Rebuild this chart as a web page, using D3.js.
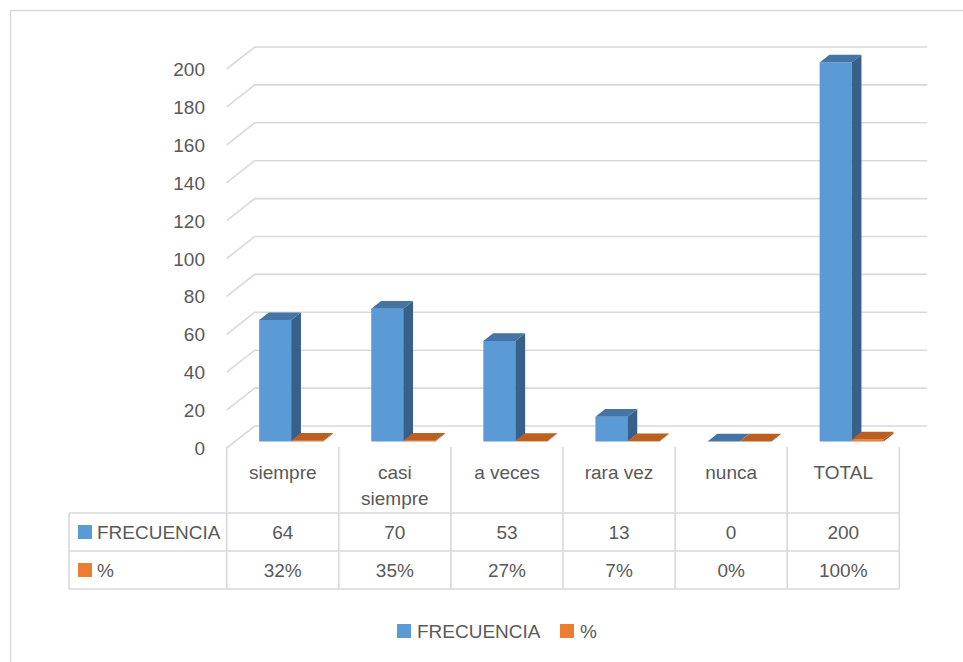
<!DOCTYPE html>
<html>
<head>
<meta charset="utf-8">
<script src="https://cdn.jsdelivr.net/npm/d3@7"></script>
<style>
  body { margin: 0; background: #fff; }
  svg text { font-family: "Liberation Sans", Arial, sans-serif; fill: #595959; }
</style>
</head>
<body>
<svg id="chart" width="963" height="662"></svg>
<script>
const categories = ['siempre', 'casi siempre', 'a veces', 'rara vez', 'nunca', 'TOTAL']
const frecuencia = [64, 70, 53, 13, 0, 200]
const porcentaje = [0.32, 0.35, 0.27, 0.07, 0, 1]
const seriesNames = ['FRECUENCIA', '%']
const yTicks = [0, 20, 40, 60, 80, 100, 120, 140, 160, 180, 200]

const width = 963, height = 662
const left = 226.7, right = 899.3
const depthX = 28, depthY = -22   // full floor depth shift
const d0 = 0.3, d1 = 0.65         // where the bars sit in depth
const fontSize = 19

const svg = d3.select('#chart')

// chart frame
svg.append('rect').attr('x', 10.5).attr('y', 10.5).attr('width', 1000).attr('height', 700)
  .attr('fill', 'none').attr('stroke', '#d9d9d9').attr('stroke-width', 1.5)

const xScale = d3.scaleBand().domain(categories).range([left, right])
const xSub = d3.scaleBand().domain(seriesNames).range([0, xScale.bandwidth()]).paddingOuter(0.75)
const yScale = d3.scaleLinear().domain([0, 200]).range([448, 69])

const proj = (x, v, d) => [x + depthX * d, yScale(v) + depthY * d]

// gridlines: side wall diagonal + back wall line
const grid = svg.append('g')
yTicks.forEach(t => {
  const pts = [proj(left, t, 0), proj(left, t, 1), proj(right, t, 1)]
  grid.append('polyline').attr('points', pts.map(p => p.join(',')).join(' '))
    .attr('fill', 'none').attr('stroke', '#d9d9d9').attr('stroke-width', 1.6)
})

// y labels
svg.append('g').selectAll('text').data(yTicks).enter().append('text')
  .attr('x', 205).attr('y', d => yScale(d) + 7)
  .attr('text-anchor', 'end').attr('font-size', fontSize).text(d => d)

// bars
const colors = {
  'FRECUENCIA': {front: '#5b9bd5', top: '#4475a6', side: '#386089'},
  '%': {front: '#ed7d31', top: '#bc5f22', side: '#a2521d'}
}
const barData = []
categories.forEach((c, i) => {
  barData.push({cat: c, s: 'FRECUENCIA', v: frecuencia[i]})
  barData.push({cat: c, s: '%', v: porcentaje[i]})
})
const bars = svg.append('g')
barData.forEach(b => {
  const x0 = xScale(b.cat) + xSub(b.s)
  const x1 = x0 + xSub.bandwidth()
  const col = colors[b.s]
  const poly = (pts, fill) => bars.append('polygon')
    .attr('points', pts.map(p => p.join(',')).join(' ')).attr('fill', fill)
  // front face
  poly([proj(x0, 0, d0), proj(x1, 0, d0), proj(x1, b.v, d0), proj(x0, b.v, d0)], col.front)
  // side face
  poly([proj(x1, 0, d0), proj(x1, 0, d1), proj(x1, b.v, d1), proj(x1, b.v, d0)], col.side)
  // top face
  poly([proj(x0, b.v, d0), proj(x1, b.v, d0), proj(x1, b.v, d1), proj(x0, b.v, d1)], col.top)
})

// data table
const tableLeft = 69, rowTop = 513, rowMid = 551, rowBottom = 589
const table = svg.append('g').attr('stroke', '#d9d9d9').attr('stroke-width', 1.6)
;[rowTop, rowMid, rowBottom].forEach(y => {
  table.append('line').attr('x1', tableLeft).attr('x2', right).attr('y1', y).attr('y2', y)
})
table.append('line').attr('x1', tableLeft).attr('x2', tableLeft).attr('y1', rowTop).attr('y2', rowBottom)
categories.forEach(c => {
  table.append('line').attr('x1', xScale(c)).attr('x2', xScale(c)).attr('y1', 447).attr('y2', rowBottom)
})
table.append('line').attr('x1', right).attr('x2', right).attr('y1', 447).attr('y2', rowBottom)

// category labels
const catText = svg.append('g').selectAll('text').data(categories).enter().append('text')
  .attr('text-anchor', 'middle').attr('font-size', fontSize)
  .attr('x', d => xScale(d) + xScale.bandwidth() / 2).attr('y', 479)
catText.each(function(d) {
  const words = d === 'casi siempre' ? ['casi', 'siempre'] : [d]
  words.forEach((w, i) => {
    d3.select(this).append('tspan').attr('x', xScale(d) + xScale.bandwidth() / 2)
      .attr('dy', i === 0 ? 0 : 26).text(w)
  })
})

// table values
const cells = svg.append('g')
categories.forEach((c, i) => {
  const cx = xScale(c) + xScale.bandwidth() / 2
  cells.append('text').attr('x', cx).attr('y', 539).attr('text-anchor', 'middle')
    .attr('font-size', fontSize).text(frecuencia[i])
  cells.append('text').attr('x', cx).attr('y', 577).attr('text-anchor', 'middle')
    .attr('font-size', fontSize).text(Math.round(porcentaje[i] * 100) + '%')
})
// row headers
seriesNames.forEach((s, i) => {
  const cy = i === 0 ? 532 : 570
  cells.append('rect').attr('x', 78).attr('y', cy - 7).attr('width', 14).attr('height', 14)
    .attr('fill', colors[s].front)
  cells.append('text').attr('x', 97).attr('y', cy + 7).attr('font-size', fontSize).text(s)
})

// legend
const legend = svg.append('g')
const legendX = [397, 560]
seriesNames.forEach((s, i) => {
  legend.append('rect').attr('x', legendX[i]).attr('y', 624).attr('width', 14).attr('height', 14)
    .attr('fill', colors[s].front)
  legend.append('text').attr('x', legendX[i] + 20).attr('y', 638).attr('font-size', fontSize).text(s)
})
</script>
</body>
</html>
